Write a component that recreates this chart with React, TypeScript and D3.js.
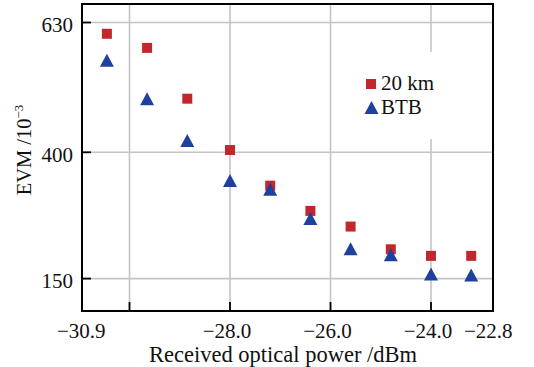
import React from 'react';
import * as d3 from 'd3';

// received optical power (dBm)
const powerDbm = [-30.45, -29.65, -28.85, -28.0, -27.2, -26.4, -25.6, -24.8, -24.0, -23.2];
// EVM x 10^-3
const evm20km = [610, 585, 495, 404, 334, 284, 253, 208, 195, 195];
const evmBtb = [563, 495, 421, 344, 327, 269, 209, 197, 159, 157];

const xTickLabels = ['-30.9', '-28.0', '-26.0', '-24.0', '-22.8'];
const xGridTicks = [-30, -28, -26, -24];
const yTickLabels = ['150', '400', '630'];

const W = 534;
const H = 367;
const frame = { left: 82, right: 493, top: 4, bottom: 311 };
const FONT = '"Liberation Serif", "Times New Roman", serif';

const RED = '#c1272d';
const BLUE = '#1f409c';

const trianglePath = 'M0,-6.5 L7,6.5 L-7,6.5 Z';

export default function App() {
  const x = d3.scaleLinear().domain([-30, -24]).range([129.5, 431]);
  // the original axis is not evenly spaced between its labels
  const y = d3.scaleLinear().domain([150, 400, 630]).range([278.6, 152.3, 22.5]);

  const minus = (s: string) => s.replace('-', '\u2212');

  return (
    <svg
      width={W}
      height={H}
      style={{ position: 'absolute', left: 0, top: 0, background: '#fff' }}
      fontFamily={FONT}
    >
      <rect x={0} y={0} width={W} height={H} fill="#fff" />

      {/* grid */}
      {xGridTicks.map((t) => (
        <line key={'gx' + t} x1={x(t)} x2={x(t)} y1={frame.top} y2={frame.bottom} stroke="#c4c4c4" strokeWidth={1.6} />
      ))}
      {yTickLabels.map((t) => (
        <line key={'gy' + t} x1={frame.left} x2={frame.right} y1={y(+t)} y2={y(+t)} stroke="#c4c4c4" strokeWidth={1.6} />
      ))}

      {/* legend background hides part of the grid */}
      <rect x={362} y={52} width={84} height={87} fill="#fff" />

      {/* ticks */}
      {xGridTicks.map((t) => (
        <line key={'tx' + t} x1={x(t)} x2={x(t)} y1={frame.bottom} y2={frame.bottom - 9} stroke="#000" strokeWidth={1.8} />
      ))}
      {yTickLabels.map((t) => (
        <line key={'ty' + t} x1={frame.left} x2={frame.left + 9} y1={y(+t)} y2={y(+t)} stroke="#000" strokeWidth={1.8} />
      ))}

      {/* frame */}
      <rect
        x={frame.left}
        y={frame.top}
        width={frame.right - frame.left}
        height={frame.bottom - frame.top}
        fill="none"
        stroke="#000"
        strokeWidth={2}
      />

      {/* data: 20 km */}
      {powerDbm.map((p, i) => (
        <rect key={'r' + i} x={x(p) - 5} y={y(evm20km[i]) - 5} width={10} height={10} fill={RED} />
      ))}
      {/* data: BTB */}
      {powerDbm.map((p, i) => (
        <path key={'b' + i} d={trianglePath} transform={`translate(${x(p)},${y(evmBtb[i])})`} fill={BLUE} />
      ))}

      {/* tick labels */}
      {xTickLabels.map((t) => (
        <text key={'lx' + t} x={x(+t) - 3} y={338} textAnchor="middle" fontSize={21} fill="#111">
          {minus(t)}
        </text>
      ))}
      {yTickLabels.map((t) => (
        <text key={'ly' + t} x={73} y={y(+t) + 9.5} textAnchor="end" fontSize={21} fill="#111">
          {t}
        </text>
      ))}

      {/* axis titles */}
      <text x={283} y={362} textAnchor="middle" fontSize={22.5} fill="#111">
        Received optical power /dBm
      </text>
      <text transform="translate(31,150) rotate(-90)" textAnchor="middle" fontSize={20.5} fill="#111">
        EVM /10
        <tspan fontSize={13} dy={-8}>{'\u22123'}</tspan>
      </text>

      {/* legend */}
      <rect x={366} y={79} width={10} height={10} fill={RED} />
      <text x={381} y={89.5} fontSize={21} fill="#111">20 km</text>
      <path d={trianglePath} transform="translate(371.5,107.5)" fill={BLUE} />
      <text x={381} y={113.5} fontSize={21} fill="#111">BTB</text>
    </svg>
  );
}
